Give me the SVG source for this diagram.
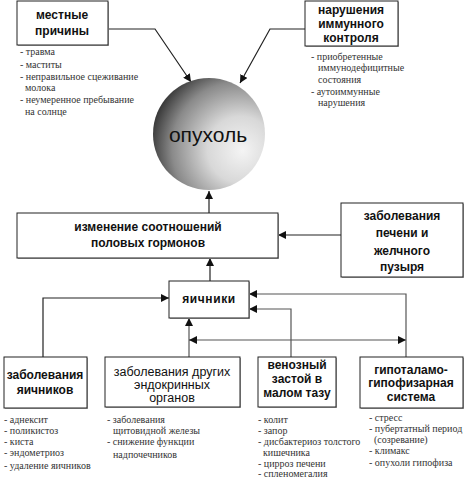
<svg xmlns="http://www.w3.org/2000/svg" width="466" height="480" viewBox="0 0 466 480">
<style>
.box{fill:#fff;stroke:#222;stroke-width:1}
.sh{fill:#aaa}
.bt{font-family:"Liberation Sans",Arial,sans-serif;font-size:12px;font-weight:bold;fill:#111;text-anchor:middle}
.rt{font-family:"Liberation Sans",Arial,sans-serif;font-size:12.5px;fill:#111;text-anchor:middle}
.li{font-family:"Liberation Serif","Times New Roman",serif;font-size:10px;fill:#333}
.c{fill:none;stroke:#222;stroke-width:1.2}
.g{fill:none;stroke:#555;stroke-width:1.2}
</style>
<defs>
<marker id="ah" viewBox="0 0 10 10" refX="10" refY="5" markerWidth="8" markerHeight="8" markerUnits="userSpaceOnUse" orient="auto-start-reverse">
<path d="M0,0 L10,5 L0,10 z" fill="#111"/>
</marker>
<radialGradient id="tg" cx="0.75" cy="0.62" r="0.85" fx="0.8" fy="0.65">
<stop offset="0" stop-color="#f4f4f4"/>
<stop offset="0.35" stop-color="#d8d8d8"/>
<stop offset="0.7" stop-color="#8a8a8a"/>
<stop offset="1" stop-color="#1a1a1a"/>
</radialGradient>
</defs>

<g id="connectors">
<polyline class="c" points="108,29 155,29 191,82" marker-end="url(#ah)"/>
<polyline class="c" points="305,29 270,29 240,83" marker-end="url(#ah)"/>
<line class="c" x1="209" y1="213" x2="209" y2="191" marker-end="url(#ah)"/>
<line class="c" x1="341" y1="235" x2="278" y2="235" marker-end="url(#ah)"/>
<line class="c" x1="210" y1="281" x2="210" y2="258" marker-end="url(#ah)"/>
<polyline class="c" points="43,357 43,298 169,298" marker-end="url(#ah)"/>
<line class="g" x1="189" y1="357" x2="189" y2="318" marker-end="url(#ah)"/>
<line class="g" x1="189" y1="340" x2="406" y2="340" marker-start="url(#ah)" marker-end="url(#ah)"/>
<polyline class="g" points="406,357 406,294 249,294" marker-end="url(#ah)"/>
<polyline class="g" points="291,357 291,309 249,309" marker-end="url(#ah)"/>
</g>

<g id="local">
<rect class="sh" x="18" y="2" width="91" height="44"/>
<rect class="box" x="17" y="1" width="91" height="44"/>
<text class="bt" x="62" y="19">местные</text>
<text class="bt" x="62" y="35">причины</text>
<text class="li" x="20" y="55">- травма</text>
<text class="li" x="20" y="68">- маститы</text>
<text class="li" x="20" y="80">- неправильное сцеживание</text>
<text class="li" x="25" y="91">молока</text>
<text class="li" x="20" y="103">- неумеренное пребывание</text>
<text class="li" x="25" y="115">на солнце</text>
</g>

<g id="immune">
<rect class="sh" x="306" y="2" width="93" height="45"/>
<rect class="box" x="305" y="1" width="93" height="45"/>
<text class="bt" x="351" y="14">нарушения</text>
<text class="bt" x="351" y="28">иммунного</text>
<text class="bt" x="351" y="42">контроля</text>
<text class="li" x="311" y="60">- приобретенные</text>
<text class="li" x="318" y="71">иммунодефицитные</text>
<text class="li" x="318" y="83">состояния</text>
<text class="li" x="311" y="95">- аутоиммунные</text>
<text class="li" x="318" y="106">нарушения</text>
</g>

<g id="tumor">
<circle cx="209" cy="134" r="56" fill="url(#tg)"/>
<text x="208" y="142" font-family="'Liberation Sans',Arial,sans-serif" font-size="21" fill="#111" text-anchor="middle">опухоль</text>
</g>

<g id="hormones">
<rect class="sh" x="18" y="214" width="261" height="45"/>
<rect class="box" x="17" y="213" width="261" height="45"/>
<text class="bt" x="148" y="231">изменение соотношений</text>
<text class="bt" x="148" y="247">половых гормонов</text>
</g>

<g id="liver">
<rect class="sh" x="342" y="204" width="122" height="74"/>
<rect class="box" x="341" y="203" width="122" height="74"/>
<text class="bt" x="402" y="220">заболевания</text>
<text class="bt" x="402" y="237">печени и</text>
<text class="bt" x="402" y="255">желчного</text>
<text class="bt" x="402" y="271">пузыря</text>
</g>

<g id="ovaries">
<rect class="sh" x="170" y="282" width="80" height="37"/>
<rect class="box" x="169" y="281" width="80" height="37"/>
<text class="bt" x="209" y="303" font-size="11" letter-spacing="0.6">яичники</text>
</g>

<g id="ovdis">
<rect class="sh" x="5" y="358" width="83" height="51"/>
<rect class="box" x="4" y="357" width="83" height="51"/>
<text class="bt" x="45" y="379">заболевания</text>
<text class="bt" x="45" y="394">яичников</text>
<text class="li" x="4" y="423">- аднексит</text>
<text class="li" x="4" y="434">- поликистоз</text>
<text class="li" x="4" y="445">- киста</text>
<text class="li" x="4" y="456">- эндометриоз</text>
<text class="li" x="4" y="469">- удаление яичников</text>
</g>

<g id="endo">
<rect class="sh" x="106" y="358" width="135" height="50"/>
<rect class="box" x="105" y="357" width="135" height="50"/>
<text class="rt" x="172" y="376">заболевания других</text>
<text class="rt" x="172" y="389">эндокринных</text>
<text class="rt" x="172" y="402">органов</text>
<text class="li" x="107" y="423">- заболевания</text>
<text class="li" x="113" y="434">щитовидной железы</text>
<text class="li" x="107" y="445">- снижение функции</text>
<text class="li" x="113" y="458">надпочечников</text>
</g>

<g id="venous">
<rect class="sh" x="259" y="358" width="78" height="50"/>
<rect class="box" x="258" y="357" width="78" height="50"/>
<text class="bt" x="297" y="369">венозный</text>
<text class="bt" x="297" y="383">застой в</text>
<text class="bt" x="297" y="397">малом тазу</text>
<text class="li" x="258" y="423">- колит</text>
<text class="li" x="258" y="434">- запор</text>
<text class="li" x="258" y="445">- дисбактериоз толстого</text>
<text class="li" x="263" y="456">кишечника</text>
<text class="li" x="258" y="467">- цирроз печени</text>
<text class="li" x="258" y="477">- спленомегалия</text>
</g>

<g id="hypo">
<rect class="sh" x="361" y="358" width="103" height="51"/>
<rect class="box" x="360" y="357" width="103" height="51"/>
<text class="bt" x="411" y="374">гипоталамо-</text>
<text class="bt" x="411" y="387">гипофизарная</text>
<text class="bt" x="411" y="401">система</text>
<text class="li" x="369" y="421">- стресс</text>
<text class="li" x="369" y="432">- пубертатный период</text>
<text class="li" x="374" y="443">(созревание)</text>
<text class="li" x="369" y="454">- климакс</text>
<text class="li" x="369" y="466">- опухоли гипофиза</text>
</g>
</svg>
